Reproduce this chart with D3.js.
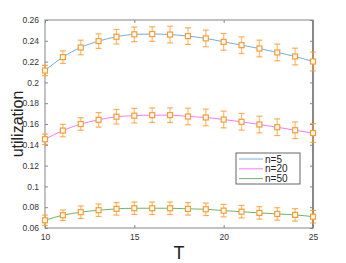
<!DOCTYPE html>
<html>
<head>
<meta charset="utf-8">
<script src="https://cdn.jsdelivr.net/npm/d3@7"></script>
<style>
  body { margin: 0; background: #fff; }
  svg text { font-family: "Liberation Sans", Arial, sans-serif; }
</style>
</head>
<body>
<div id="chart"></div>
<script>
// --- DATA ---
const T = [10, 11, 12, 13, 14, 15, 16, 17, 18, 19, 20, 21, 22, 23, 24, 25];
const seriesNames = ["n=5", "n=20", "n=50"];
const util5  = [0.2114, 0.2243, 0.2336, 0.2397, 0.2439, 0.2462, 0.2465, 0.2460, 0.2445, 0.2423, 0.2390, 0.2358, 0.2326, 0.2288, 0.2249, 0.2201];
const err5   = [0.005, 0.006, 0.007, 0.007, 0.007, 0.007, 0.007, 0.008, 0.008, 0.008, 0.008, 0.008, 0.008, 0.008, 0.008, 0.009];
const util20 = [0.1453, 0.1537, 0.1600, 0.1640, 0.1670, 0.1680, 0.1685, 0.1685, 0.1672, 0.1663, 0.1643, 0.1621, 0.1595, 0.1569, 0.1540, 0.1513];
const err20  = [0.005, 0.006, 0.006, 0.007, 0.007, 0.007, 0.007, 0.007, 0.008, 0.008, 0.008, 0.008, 0.008, 0.008, 0.008, 0.009];
const util50 = [0.0674, 0.0723, 0.0752, 0.0771, 0.0784, 0.0790, 0.0790, 0.0790, 0.0784, 0.0780, 0.0767, 0.0757, 0.0745, 0.0735, 0.0726, 0.0709];
const err50  = [0.005, 0.005, 0.006, 0.006, 0.006, 0.006, 0.006, 0.006, 0.006, 0.006, 0.006, 0.006, 0.006, 0.006, 0.006, 0.006];
const xTicks = [10, 15, 20, 25];
const yTicks = [0.06, 0.08, 0.1, 0.12, 0.14, 0.16, 0.18, 0.2, 0.22, 0.24, 0.26];

const colors = ["#72aedc", "#ff77ff", "#66b966"];
const markerColor = "#ff9a2e";

const W = 346, H = 263;
const margin = {top: 20, right: 33, bottom: 35, left: 45};
const iw = W - margin.left - margin.right;
const ih = H - margin.top - margin.bottom;

const svg = d3.select("#chart").append("svg").attr("width", W).attr("height", H);
const g = svg.append("g").attr("transform", `translate(${margin.left},${margin.top})`);

const x = d3.scaleLinear().domain([10, 25]).range([0, iw]);
const y = d3.scaleLinear().domain([0.06, 0.26]).range([ih, 0]);

// frame
g.append("rect").attr("width", iw).attr("height", ih)
  .attr("fill", "none").attr("stroke", "#999").attr("stroke-width", 1.2);
g.append("line").attr("x1", iw).attr("x2", iw).attr("y1", 0).attr("y2", ih)
  .attr("stroke", "#888").attr("stroke-width", 2);

// axes with inward ticks
const fmt = d3.format("~g");
const axL = g.append("g").call(d3.axisLeft(y).tickValues(yTicks).tickFormat(fmt).tickSizeInner(-3).tickSizeOuter(0).tickPadding(6));
const axB = g.append("g").attr("transform", `translate(0,${ih})`)
  .call(d3.axisBottom(x).tickValues(xTicks).tickFormat(fmt).tickSizeInner(-3).tickSizeOuter(0).tickPadding(6));
const axT = g.append("g").call(d3.axisTop(x).tickValues(xTicks).tickFormat("").tickSizeInner(-3).tickSizeOuter(0));
const axR = g.append("g").attr("transform", `translate(${iw},0)`)
  .call(d3.axisRight(y).tickValues(yTicks).tickFormat("").tickSizeInner(-3).tickSizeOuter(0));
[axL, axB, axT, axR].forEach(a => {
  a.select(".domain").remove();
  a.selectAll("line").attr("stroke", "#888");
  a.selectAll("text").attr("fill", "#333").style("font-size", "8.5px").style("font-family", "Liberation Sans, Arial, sans-serif");
});

// axis labels
svg.append("text").attr("transform", `translate(22.5,${margin.top + ih / 2}) rotate(-90)`)
  .attr("text-anchor", "middle").attr("fill", "#222").style("font-size", "16px").text("utilization");
svg.append("text").attr("x", margin.left + iw / 2).attr("y", 259)
  .attr("text-anchor", "middle").attr("fill", "#222").style("font-size", "18px").text("T");

const series = [
  {name: seriesNames[0], vals: util5, errs: err5, color: colors[0]},
  {name: seriesNames[1], vals: util20, errs: err20, color: colors[1]},
  {name: seriesNames[2], vals: util50, errs: err50, color: colors[2]},
];

const line = d3.line().x(d => x(d.t)).y(d => y(d.v)).curve(d3.curveMonotoneX);

series.forEach(s => {
  const pts = T.map((t, i) => ({t, v: s.vals[i], e: s.errs[i]}));
  g.append("path").datum(pts).attr("fill", "none").attr("stroke", s.color)
    .attr("stroke-width", 1).attr("d", line);

  const eb = g.append("g").selectAll("g").data(pts).join("g");
  eb.append("line").attr("x1", d => x(d.t)).attr("x2", d => x(d.t))
    .attr("y1", d => y(d.v - d.e)).attr("y2", d => y(d.v + d.e))
    .attr("stroke", markerColor).attr("stroke-opacity", 0.6).attr("stroke-width", 1.3);
  [-1, 1].forEach(sg => {
    eb.append("line").attr("x1", d => x(d.t) - 3).attr("x2", d => x(d.t) + 3)
      .attr("y1", d => y(d.v + sg * d.e)).attr("y2", d => y(d.v + sg * d.e))
      .attr("stroke", markerColor).attr("stroke-opacity", 0.8).attr("stroke-width", 1.2);
  });
  eb.append("rect").attr("x", d => x(d.t) - 2.5).attr("y", d => y(d.v) - 2.5)
    .attr("width", 5).attr("height", 5).attr("fill", "#fff")
    .attr("stroke", markerColor).attr("stroke-width", 1.2);
});

// legend
const lg = svg.append("g").attr("transform", "translate(236,153)");
lg.append("rect").attr("width", 64).attr("height", 31).attr("fill", "#fff")
  .attr("stroke", "#666").attr("stroke-width", 1);
series.forEach((s, i) => {
  const yy = 6 + i * 9.8;
  lg.append("line").attr("x1", 3).attr("x2", 27).attr("y1", yy).attr("y2", yy)
    .attr("stroke", s.color).attr("stroke-width", 1);
  lg.append("text").attr("x", 29).attr("y", yy + 3.5).attr("fill", "#222")
    .style("font-size", "10px").text(s.name);
});
</script>
</body>
</html>
